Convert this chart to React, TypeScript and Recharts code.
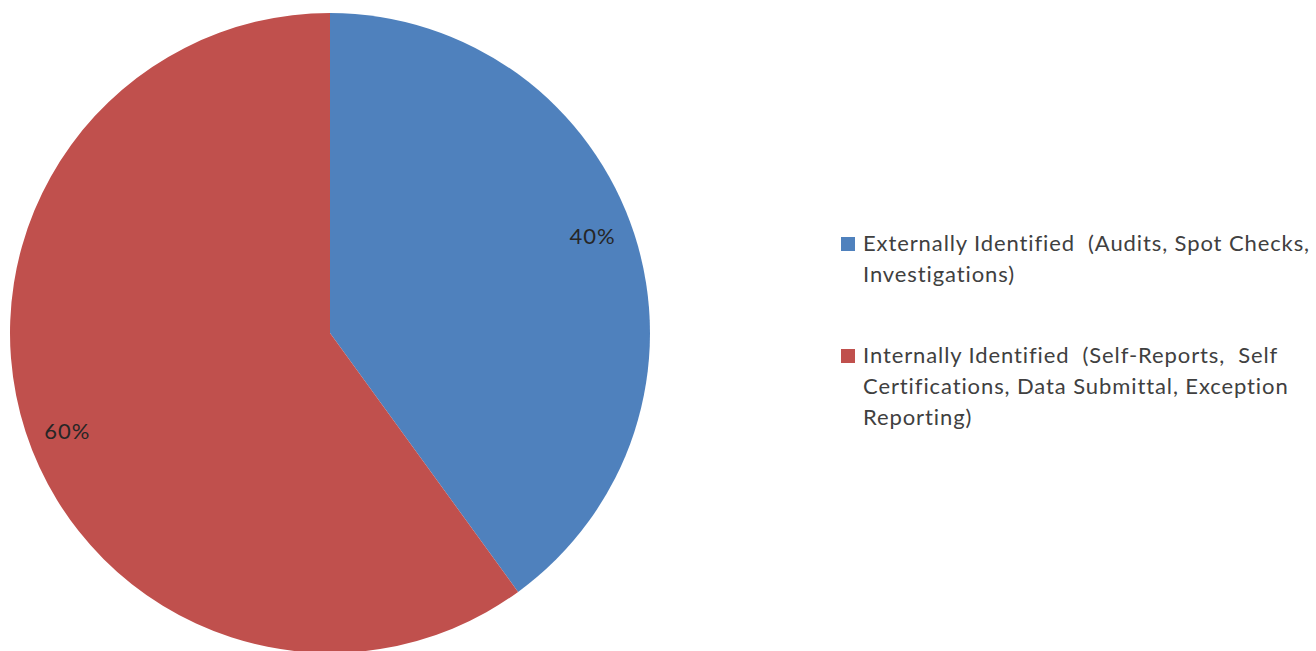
import { PieChart, Pie, Cell, Legend } from 'recharts';

const categories = [
  'Externally Identified  (Audits, Spot Checks, Investigations)',
  'Internally Identified  (Self-Reports,  Self Certifications, Data Submittal, Exception Reporting)',
];
const shares = [40, 60];
const colors = ['#4F81BD', '#C0504D'];
// line breaks as they appear in the legend
const legendLines = [
  ['Externally Identified  (Audits, Spot Checks,', 'Investigations)'],
  ['Internally Identified  (Self-Reports,  Self', 'Certifications, Data Submittal, Exception', 'Reporting)'],
];

const data = categories.map((name, i) => ({ name, value: shares[i] }));

const RADIAN = Math.PI / 180;
const FONT = 'Lato, "Open Sans", sans-serif';

const renderLabel = (props: any) => {
  const { cx, cy, midAngle, percent } = props;
  const r = 280;
  const a = (midAngle + 2.3) * RADIAN;
  const x = cx + r * Math.cos(-a);
  const y = cy + r * Math.sin(-a);
  return (
    <text
      x={x}
      y={y}
      textAnchor="middle"
      dominantBaseline="central"
      fill="#262626"
      fontSize={22}
      letterSpacing={1}
      fontFamily={FONT}
    >
      {`${Math.round(percent * 100)}%`}
    </text>
  );
};

const renderLegend = () => (
  <div style={{ fontFamily: FONT, fontSize: 22, letterSpacing: 0.9, color: '#404040', lineHeight: '31px' }}>
    {legendLines.map((lines, i) => (
      <div key={i} style={{ display: 'flex', marginBottom: i === 0 ? 50 : 0 }}>
        <span
          style={{
            width: 14,
            height: 14,
            background: colors[i],
            marginTop: 10,
            marginRight: 8,
            flexShrink: 0,
          }}
        />
        <div>
          {lines.map((l) => (
            <div key={l} style={{ whiteSpace: 'pre' }}>{l}</div>
          ))}
        </div>
      </div>
    ))}
  </div>
);

export default function App() {
  return (
    <div style={{ position: 'absolute', left: 0, top: 0, width: 1316, height: 651, background: '#fff' }}>
      <PieChart width={1316} height={651} margin={{ top: 0, right: 0, bottom: 0, left: 0 }}>
        <Pie
          data={data}
          dataKey="value"
          nameKey="name"
          cx={330}
          cy={333}
          outerRadius={320}
          startAngle={90}
          endAngle={-270}
          stroke="none"
          label={renderLabel}
          labelLine={false}
          isAnimationActive={false}
        >
          {data.map((d, i) => (
            <Cell key={d.name} fill={colors[i]} />
          ))}
        </Pie>
        <Legend
          content={renderLegend}
          wrapperStyle={{ left: 841, top: 227, width: 475 }}
        />
      </PieChart>
    </div>
  );
}
